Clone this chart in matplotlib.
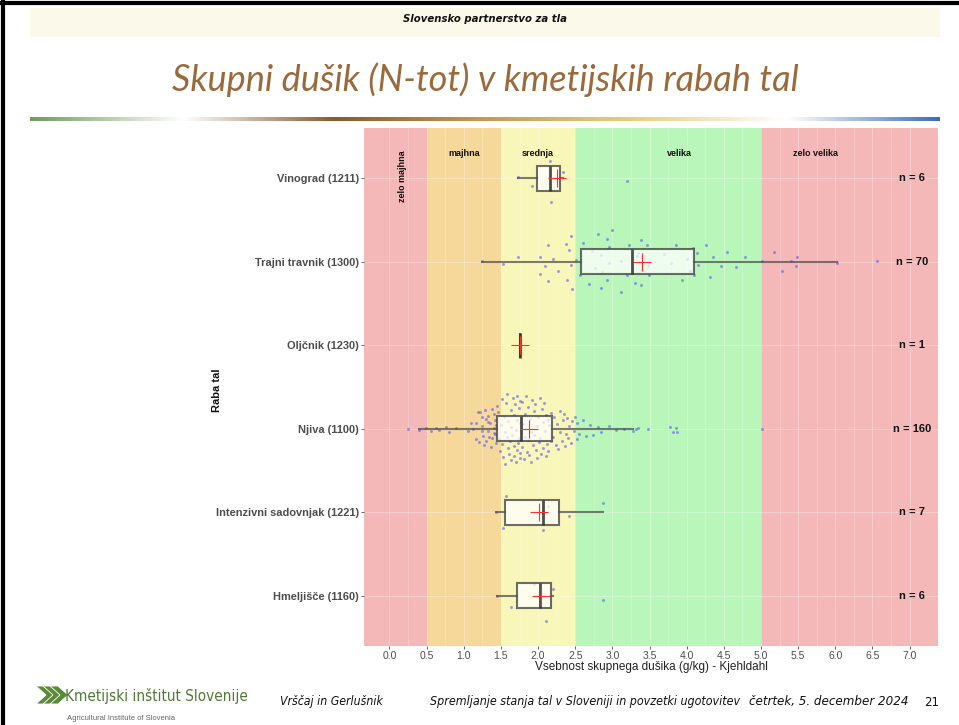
import matplotlib
matplotlib.use("Agg")
import matplotlib.pyplot as plt
import numpy as np
from matplotlib.colors import LinearSegmentedColormap
from matplotlib.patches import Polygon, Rectangle

# ---------------- data ----------------
categories = [
    "Vinograd (1211)",
    "Trajni travnik (1300)",
    "Oljčnik (1230)",
    "Njiva (1100)",
    "Intenzivni sadovnjak (1221)",
    "Hmeljišče (1160)",
]

vinograd = [1.73, 1.92, 2.16, 2.17, 2.34, 3.20]
vinograd_jit = [-1, 8, -17, 24, -6, 3]

travnik = [
    1.25, 1.53, 1.73, 2.03, 2.09, 2.03, 2.14, 2.20, 2.27, 2.38,
    2.44, 2.42, 2.44, 2.51, 2.56, 2.14, 2.39, 2.46, 2.61, 2.73,
    2.76, 2.85, 2.86, 2.81, 2.99, 2.93, 2.95, 2.96, 2.69, 2.84,
    2.93, 3.12, 3.11, 3.20, 3.23, 3.30, 3.35, 3.38, 3.39, 3.40,
    3.38, 3.47, 3.48, 3.49, 3.70, 3.79, 3.85, 3.94, 4.01, 4.04,
    4.09, 4.10, 4.14, 4.15, 4.26, 4.31, 4.35, 4.46, 4.54, 4.66,
    4.78, 5.01, 5.17, 5.28, 5.41, 5.47, 5.48, 6.02, 6.56, 3.33,
]
travnik_jit = [
    -1, 2, -5, -5, 4, 12, -17, -3, 9, -18,
    -26, -12, 3, -2, 13, 19, 18, 27, -19, -11,
    6, -7, 10, -27, -31, -23, -15, 1, 22, 26,
    18, -1, 30, 13, -17, 21, -9, -22, -5, 8,
    23, -17, 4, 13, -8, 1, -17, 18, -3, 9,
    -14, 13, -9, 3, -17, 15, -5, 4, -10, 5,
    -5, -1, -10, 9, -1, 4, -5, 1, -1, -6,
]

oljcnik = [1.76]
oljcnik_jit = [0]

njiva = [
    0.25, 0.40, 0.49, 0.56, 0.63, 0.67, 0.76, 0.80, 0.90, 1.06,
    1.10, 1.12, 1.16, 1.17, 1.19, 1.21, 1.22, 1.24, 1.25, 1.25,
    1.26, 1.29, 1.30, 1.32, 1.32, 1.33, 1.35, 1.36, 1.38, 1.40,
    1.41, 1.42, 1.43, 1.43, 1.30, 1.27, 1.34, 1.38, 1.40, 1.42,
    1.45, 1.46, 1.48, 1.49, 1.50, 1.51, 1.52, 1.53, 1.54, 1.55,
    1.56, 1.57, 1.58, 1.58, 1.59, 1.60, 1.61, 1.62, 1.63, 1.63,
    1.64, 1.65, 1.66, 1.67, 1.67, 1.68, 1.69, 1.70, 1.70, 1.71,
    1.72, 1.72, 1.73, 1.74, 1.74, 1.75, 1.75, 1.76, 1.76, 1.77,
    1.78, 1.79, 1.80, 1.81, 1.82, 1.83, 1.84, 1.85, 1.86, 1.87,
    1.88, 1.89, 1.90, 1.91, 1.92, 1.93, 1.94, 1.95, 1.96, 1.97,
    1.98, 1.99, 2.00, 2.01, 2.02, 2.03, 2.04, 2.05, 2.06, 2.07,
    2.08, 2.09, 2.10, 2.11, 2.12, 2.13, 2.14, 2.15, 2.17, 2.18,
    2.20, 2.22, 2.24, 2.26, 2.27, 2.29, 2.30, 2.32, 2.33, 2.35,
    2.36, 2.37, 2.39, 2.40, 2.42, 2.44, 2.45, 2.48, 2.50, 2.52,
    2.53, 2.55, 2.60, 2.65, 2.70, 2.74, 2.80, 2.85, 2.95, 3.05,
    3.15, 3.28, 3.32, 3.35, 3.48, 3.78, 3.82, 3.86, 3.87, 5.01,
]
njiva_jit = [
    0, 1, -1, 2, -1, 1, -2, 3, -1, 2,
    -6, 0, -6, 10, -17, 13, -17, -12, -3, 2,
    7, -19, 12, -13, -7, 2, -6, 18, 9, -15,
    -1, 5, 14, -4, -10, 16, 8, -20, 4, -9,
    -23, -17, 10, 22, -4, 15, -30, 28, -12, 3,
    35, -26, 8, -35, 19, -8, 25, 12, -19, 31,
    -2, 6, -31, 17, 27, -14, -25, 33, 1, -9,
    21, -33, 14, -21, 9, 29, -6, 24, -28, 4,
    -27, 18, -5, 30, -15, 8, -33, 23, 11, -22,
    26, -10, 3, 33, -29, 16, -18, 6, -25, 21,
    -3, 29, -12, 13, -31, 9, 25, -20, -7, 19,
    -26, 2, 27, -14, 15, -9, 22, -4, 12, -16,
    8, -12, 16, -5, 20, -18, 3, 12, -9, -15,
    17, 5, -11, 9, -3, 14, -8, 2, -12, 10,
    -6, 5, -9, 7, -4, 6, -2, 3, -3, 1,
    0, 2, 0, -1, 0, -2, 3, -1, 3, 0,
]

sadovnjak = [1.44, 1.53, 1.57, 2.07, 2.14, 2.41, 2.88]
sadovnjak_jit = [0, 16, -16, 18, -6, 4, -9]

hmeljisce = [1.45, 1.64, 1.94, 2.11, 2.20, 2.88]
hmeljisce_jit = [0, 11, -12, 25, -7, 4]

band_names = ["zelo majhna", "majhna", "srednja", "velika", "zelo velika"]
band_low = [-1.0, 0.5, 1.5, 2.5, 5.0]
band_high = [0.5, 1.5, 2.5, 5.0, 8.0]
band_label_x = [0.17, 1.0, 2.0, 3.9, 5.73]
band_colors = ["#F5B8B8", "#F6D89B", "#F8F6B8", "#B9F6B9", "#F5B8B8"]

x_ticks = [0.0, 0.5, 1.0, 1.5, 2.0, 2.5, 3.0, 3.5, 4.0, 4.5, 5.0, 5.5, 6.0, 6.5, 7.0]

series = [vinograd, travnik, oljcnik, njiva, sadovnjak, hmeljisce]
jitters = [vinograd_jit, travnik_jit, oljcnik_jit, njiva_jit, sadovnjak_jit, hmeljisce_jit]

# ---------------- figure ----------------
fig = plt.figure(figsize=(9.59, 7.25), dpi=100)
fig.patch.set_facecolor("white")

# slide header band
fig.patches.append(Rectangle((30 / 959, 1 - 37 / 725), 910 / 959, 29 / 725,
                             transform=fig.transFigure, facecolor="#FBF9EA",
                             edgecolor="none", zorder=0))
fig.text(485 / 959, 1 - 19 / 725, "Slovensko partnerstvo za tla", ha="center",
         va="center", fontsize=8.1, fontstyle="italic", fontweight="bold",
         family="DejaVu Sans", fontstretch="condensed", color="#111111")

fig.text(485 / 959, 1 - 80 / 725, "Skupni dušik (N-tot) v kmetijskih rabah tal",
         ha="center", va="center", fontsize=26, fontstyle="italic",
         family="Lato", color="#9A6A3C")

# gradient rule under the title
grad = LinearSegmentedColormap.from_list(
    "rule", ["#6E9E5A", "#FFFFFF", "#8A5A2E", "#C89A50", "#E8D080", "#FFFFFF", "#3A6FC0"])
ax_rule = fig.add_axes([30 / 959, 1 - 121 / 725, 910 / 959, 4 / 725])
ax_rule.imshow(np.linspace(0, 1, 512)[None, :], aspect="auto", cmap=grad)
ax_rule.axis("off")

# slide frame
fig.add_artist(plt.Line2D([3 / 959, 3 / 959], [0, 1], color="black", lw=3))
fig.add_artist(plt.Line2D([0, 1], [1 - 3 / 725, 1 - 3 / 725], color="black", lw=3))

# ---------------- chart ----------------
ax = fig.add_axes([364 / 959, 1 - 646 / 725, 574 / 959, 518 / 725])
xmin, xmax = -0.343, 7.382
for lo, hi, col in zip(band_low, band_high, band_colors):
    ax.axvspan(max(lo, xmin), min(hi, xmax), color=col, lw=0, zorder=0)

for xv in np.arange(0, 7.01, 0.25):
    ax.axvline(xv, color="white", lw=0.6 if xv % 0.5 == 0 else 0.4, alpha=0.35, zorder=0.5)
positions = np.arange(1, len(categories) + 1)
for p in positions:
    ax.axhline(p, color="white", lw=0.6, alpha=0.35, zorder=0.5)

for p, vals, jit in zip(positions, series, jitters):
    ys = p + np.array(jit) / 83.0
    ax.scatter(vals, ys, s=4.5, color="#5A5AE6", alpha=0.6, lw=0, zorder=2)

bp = ax.boxplot(
    series, positions=positions, vert=False, widths=0.3, whis=1.5,
    showfliers=False, showcaps=False, patch_artist=True, showmeans=True,
    boxprops=dict(facecolor="white", edgecolor="#3C3C3C", lw=1.5, alpha=0.75),
    whiskerprops=dict(color="#505050", lw=1.5, alpha=0.75),
    medianprops=dict(color="#2E2E2E", lw=2.0, alpha=0.85),
    meanprops=dict(marker="+", markeredgecolor="#FF3030", markersize=13,
                   markeredgewidth=0.8),
    zorder=3,
)

for name, lx in zip(band_names, band_label_x):
    if name == "zelo majhna":
        ax.text(lx, 0.98, name, rotation=90, ha="center", va="center", fontsize=6.5,
                fontweight="bold", family="Liberation Sans", color="#111111", zorder=4)
    else:
        ax.text(lx, 0.7, name, ha="center", va="center", fontsize=6.5,
                fontweight="bold", family="Liberation Sans", color="#111111", zorder=4)

for p, vals in zip(positions, series):
    ax.text(7.03, p, f"n = {len(vals)}", ha="center", va="center", fontsize=8,
            fontweight="bold", family="Liberation Sans", color="#111111", zorder=4)

ax.set_xlim(xmin, xmax)
ax.set_ylim(6.6, 0.4)
ax.set_yticks(positions)
ax.set_yticklabels(categories, fontsize=7.9, fontweight="bold", family="Liberation Sans",
                   color="#4D4D4D")
ax.set_xticks(x_ticks)
ax.set_xticklabels([f"{t:.1f}" for t in x_ticks], fontsize=7.5,
                   family="Liberation Sans", color="#4D4D4D")
ax.tick_params(axis="both", length=2.2, width=0.6, color="#4D4D4D", pad=1.5)
for s in ax.spines.values():
    s.set_visible(False)
ax.set_xlabel("Vsebnost skupnega dušika (g/kg) - Kjehldahl", fontsize=8.5,
              family="Liberation Sans", color="#222222", labelpad=0)
ax.set_ylabel("Raba tal", fontsize=8, fontweight="bold", family="Liberation Sans",
              color="#111111")
ax.yaxis.set_label_coords(-0.248, 0.494)

# ---------------- footer ----------------
logo_col = "#5C8A3A"
for k in range(3):
    dx = k * 7
    pts = [(36 + dx, 686), (44 + dx, 686), (54 + dx, 695), (44 + dx, 704), (36 + dx, 704), (46 + dx, 695)]
    fig.patches.append(Polygon([(x / 959, 1 - y / 725) for x, y in pts], closed=True,
                               transform=fig.transFigure, facecolor=logo_col,
                               edgecolor="white", lw=0.6))
fig.text(65 / 959, 1 - 696 / 725, "Kmetijski inštitut Slovenije", ha="left", va="center",
         fontsize=11, family="DejaVu Sans", fontstretch="condensed", color="#4E7A36")
fig.text(67 / 959, 1 - 718 / 725, "Agricultural Institute of Slovenia", ha="left",
         va="center", fontsize=5.5, family="Liberation Sans", color="#666666")
fig.text(280 / 959, 1 - 702 / 725, "Vrščaj in Gerlušnik", ha="left", va="center",
         fontsize=8.8, fontstyle="italic", family="DejaVu Sans", fontstretch="condensed",
         color="#111111")
fig.text(430 / 959, 1 - 702 / 725, "Spremljanje stanja tal v Sloveniji in povzetki ugotovitev",
         ha="left", va="center", fontsize=8.9, fontstyle="italic",
         family="DejaVu Sans", fontstretch="condensed", color="#111111")
fig.text(749 / 959, 1 - 702 / 725, "četrtek, 5. december 2024", ha="left", va="center",
         fontsize=9.5, fontstyle="italic", family="DejaVu Sans", fontstretch="condensed",
         color="#111111")
fig.text(932 / 959, 1 - 702 / 725, "21", ha="center", va="center", fontsize=8.5,
         family="DejaVu Sans", color="#111111")

fig.savefig("out.png", dpi=100)
